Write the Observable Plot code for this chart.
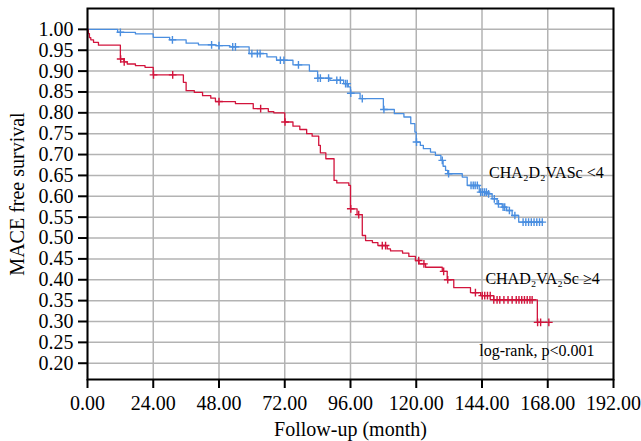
<!DOCTYPE html>
<html><head><meta charset="utf-8">
<script src="https://cdn.jsdelivr.net/npm/d3@7"></script>
<script src="https://cdn.jsdelivr.net/npm/@observablehq/plot@0.6"></script>
<style>
body{margin:0;background:#fff}
#chart svg{font-family:"Liberation Serif","Times New Roman",serif;overflow:visible}
</style>
</head><body><div id="chart"></div><script>
// Kaplan–Meier steps: time (month) and survival after that time
const blueTime = [0, 11, 17.5, 24, 30, 36, 40.5, 47, 52, 59, 65.5, 69, 75, 81, 84, 88.5, 93.5, 95.2, 96, 99.5, 108, 112, 115.5, 118, 119.5, 120, 121.5, 122.6, 125.2, 127, 129, 129.8, 130.7, 131.5, 136.8, 138.6, 143, 146, 147.7, 149.5, 151.4, 153, 155, 157.4, 166];
const blueSurv = [1.0, 0.993, 0.989, 0.981, 0.975, 0.967, 0.963, 0.961, 0.958, 0.942, 0.934, 0.926, 0.915, 0.90, 0.883, 0.878, 0.87, 0.862, 0.847, 0.834, 0.808, 0.798, 0.79, 0.774, 0.754, 0.73, 0.722, 0.714, 0.706, 0.698, 0.686, 0.672, 0.662, 0.654, 0.646, 0.626, 0.61, 0.606, 0.594, 0.582, 0.574, 0.566, 0.554, 0.538, 0.538];
const blueCensor = [12, 31, 45.3, 48, 53, 54, 60, 62, 63, 70.4, 71.7, 77, 84.1, 85, 88, 91, 92.3, 94.2, 94.8, 96.1, 100.3, 108.2, 120.1, 129.5, 131.8, 140, 140.8, 141.5, 142.3, 143.5, 144.2, 144.9, 145.6, 146.4, 148.5, 150, 151.7, 152.3, 154, 156, 159, 160, 161, 162, 163, 164, 165, 166];

const redTime = [0, 0.3, 0.7, 1.2, 2.2, 4, 12, 13.3, 14.5, 17.5, 21, 24, 35, 36, 39, 42, 45, 46.7, 54, 60.5, 66, 68, 72, 75, 77.5, 80, 82, 84.4, 85, 87, 90, 91, 95.4, 96, 98.4, 100.3, 101.5, 104, 106, 109.4, 110.6, 115, 117.3, 119.7, 121, 123.4, 129.5, 131.3, 133.7, 139.8, 143.5, 148.3, 164.2, 168.4];
const redSurv = [1.0, 0.99, 0.98, 0.975, 0.969, 0.962, 0.929, 0.922, 0.917, 0.913, 0.909, 0.891, 0.873, 0.853, 0.849, 0.841, 0.835, 0.827, 0.822, 0.81, 0.803, 0.80, 0.778, 0.768, 0.76, 0.75, 0.744, 0.722, 0.704, 0.69, 0.638, 0.632, 0.626, 0.57, 0.556, 0.506, 0.494, 0.489, 0.482, 0.474, 0.469, 0.464, 0.456, 0.446, 0.438, 0.43, 0.42, 0.40, 0.381, 0.369, 0.362, 0.352, 0.298, 0.298];
const redCensor = [12.1, 13.4, 24.1, 31.1, 48, 63.2, 72.1, 96.1, 99, 107.6, 108.8, 120.9, 122.8, 130, 131.5, 141.6, 144.1, 145, 146, 147, 148.3, 149.5, 150.5, 152, 153.5, 155, 156.5, 157.5, 158.5, 159.5, 160.5, 161.5, 162.3, 164.3, 165.4, 168.4];

const xTicks = [0, 24, 48, 72, 96, 120, 144, 168, 192];
const yTicks = [0.20, 0.25, 0.30, 0.35, 0.40, 0.45, 0.50, 0.55, 0.60, 0.65, 0.70, 0.75, 0.80, 0.85, 0.90, 0.95, 1.00];

const labelText = ["CHA₂D₂VASc <4", "CHAD₂VA₂Sc ≥4", "log-rank, p<0.001"];
const labelX = [167.5, 166.1, 164];
const labelY = [0.655, 0.402, 0.23];

const BLUE = "#4a8ee0", RED = "#d2143c";

const toRows = (t, s) => t.map((d, i) => ({time: d, surv: s[i]}));
const stepAt = (t, s) => c => { let v = s[0]; for (let i = 0; i < t.length; i++) if (t[i] <= c) v = s[i]; return v; };
const blue = toRows(blueTime, blueSurv);
const red = toRows(redTime, redSurv);
const bf = stepAt(blueTime, blueSurv), rf = stepAt(redTime, redSurv);
const blueC = blueCensor.map(c => ({time: c, surv: bf(c)}));
const redC = redCensor.map(c => ({time: c, surv: rf(c)}));
const labels = labelText.map((t, i) => ({text: t, x: labelX[i], y: labelY[i]}));

const chart = Plot.plot({
  width: 641, height: 441,
  marginLeft: 87, marginRight: 28, marginTop: 8, marginBottom: 62,
  style: {color: "black", background: "white"},
  x: {domain: [0, 192]},
  y: {domain: [0.161, 1.05]},
  marks: [
    Plot.gridX(xTicks, {stroke: "#b3b3b3", strokeOpacity: 1, strokeWidth: 1.5}),
    Plot.gridY(yTicks, {stroke: "#b3b3b3", strokeOpacity: 1, strokeWidth: 1.5}),
    Plot.line(blue, {x: "time", y: "surv", curve: "step-after", stroke: BLUE, strokeWidth: 1.3}),
    Plot.line(red, {x: "time", y: "surv", curve: "step-after", stroke: RED, strokeWidth: 1.3}),
    Plot.dot(blueC, {x: "time", y: "surv", symbol: "plus", r: 2.6, stroke: BLUE, strokeWidth: 1.4}),
    Plot.dot(redC, {x: "time", y: "surv", symbol: "plus", r: 2.6, stroke: RED, strokeWidth: 1.4}),
    Plot.text(labels, {x: "x", y: "y", text: "text", fontSize: 16, fill: "black", ariaLabel: "annot"}),
    Plot.frame({stroke: "black", strokeWidth: 2}),
    Plot.axisX(xTicks, {tickFormat: d => d.toFixed(2), tickSize: 9, tickPadding: 7, fontSize: 20, strokeWidth: 2,
      label: "Follow-up (month)", labelAnchor: "center", labelArrow: "none", labelOffset: 56}),
    Plot.axisY(yTicks, {tickFormat: d => d.toFixed(2), tickSize: 9, tickPadding: 5, fontSize: 20, strokeWidth: 2,
      label: "MACE free survival", labelAnchor: "center", labelArrow: "none", labelOffset: 78})
  ]
});
document.getElementById("chart").appendChild(chart);

// subscripts and white boxes behind annotations
d3.select(chart).selectAll('g[aria-label="annot"] text').each(function() {
  const sel = d3.select(this);
  const t = this.textContent;
  sel.text(null);
  let shifted = false;
  for (const ch of t) {
    if (ch === "₂") {
      sel.append("tspan").attr("font-size", "11px").attr("dy", "4").text("2");
      shifted = true;
    } else {
      const sp = sel.append("tspan").text(ch);
      if (shifted) { sp.attr("dy", "-4"); shifted = false; }
    }
  }
  const b = this.getBBox();
  d3.select(this.parentNode).insert("rect", () => this)
    .attr("x", b.x - 2).attr("y", b.y - 4).attr("width", b.width + 4).attr("height", b.height + 8)
    .attr("fill", "white");
});
</script></body></html>
